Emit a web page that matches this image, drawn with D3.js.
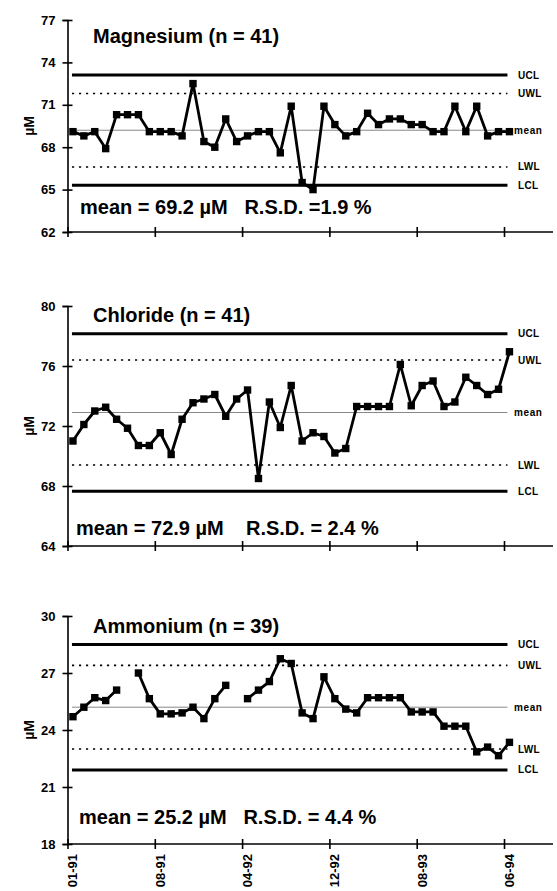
<!DOCTYPE html>
<html>
<head>
<meta charset="utf-8">
<script src="https://cdn.jsdelivr.net/npm/d3@7"></script>
<style>
  body { margin: 0; background: #fff; }
  svg { display: block; font-family: "Liberation Sans", Arial, sans-serif; font-weight: bold; }
  .pre { white-space: pre; }
</style>
</head>
<body>
<svg width="557" height="891"></svg>
<script>
// sampling dates shown on the x axis (every 8th sample)
var months = ["01-91", "08-91", "04-92", "12-92", "08-93", "06-94"];
var monthIndex = [0, 8, 16, 24, 32, 40];

var limitNames = ["UCL", "UWL", "mean", "LWL", "LCL"];

// Magnesium, uM
var magnesium = [69.1, 68.8, 69.1, 67.9, 70.3, 70.3, 70.3, 69.1, 69.1, 69.1,
    68.8, 72.5, 68.4, 68.0, 70.0, 68.4, 68.8, 69.1, 69.1, 67.6,
    70.9, 65.5, 65.0, 70.9, 69.6, 68.8, 69.1, 70.4, 69.6, 70.0,
    70.0, 69.6, 69.6, 69.1, 69.1, 70.9, 69.1, 70.9, 68.8, 69.1, 69.1];
var magLimits = [73.1, 71.8, 69.2, 66.6, 65.3];
var magTicks = [62, 65, 68, 71, 74, 77];

// Chloride, uM
var chloride = [71.0, 72.1, 73.0, 73.25, 72.45, 71.85, 70.7, 70.7, 71.55, 70.1,
    72.45, 73.55, 73.8, 74.1, 72.65, 73.8, 74.4, 68.5, 73.6, 71.9,
    74.7, 71.0, 71.55, 71.3, 70.2, 70.5, 73.3, 73.3, 73.3, 73.3,
    76.1, 73.35, 74.7, 75.0, 73.3, 73.6, 75.25, 74.7, 74.1, 74.45, 76.95];
var clLimits = [78.15, 76.4, 72.9, 69.4, 67.65];
var clTicks = [64, 68, 72, 76, 80];

// Ammonium, uM (two samples missing)
var ammonium = [24.7, 25.2, 25.7, 25.55, 26.1, null, 27.0, 25.65, 24.85, 24.85,
    24.9, 25.2, 24.6, 25.65, 26.35, null, 25.65, 26.1, 26.55, 27.75,
    27.5, 24.9, 24.6, 26.8, 25.65, 25.1, 24.9, 25.7, 25.7, 25.7,
    25.7, 24.95, 24.95, 24.95, 24.2, 24.2, 24.2, 22.85, 23.1, 22.65, 23.35];
var nhLimits = [28.5, 27.4, 25.2, 23.0, 21.9];
var nhTicks = [18, 21, 24, 27, 30];

var titles = ["Magnesium (n = 41)", "Chloride (n = 41)", "Ammonium (n = 39)"];
var stats = ["mean = 69.2 \u00b5M   R.S.D. =1.9 %",
    "mean = 72.9 \u00b5M    R.S.D. = 2.4 %",
    "mean = 25.2 \u00b5M   R.S.D. = 4.4 %"];

var svg = d3.select("svg");

// one shared category axis, ticks sit between samples
var x = d3.scaleLinear()
    .domain([0, 40])
    .range([67.5, 504]);

var panels = [
    {values: magnesium, limits: magLimits, ticks: magTicks, top: 20, bottom: 232, titleY: 43, statY: 214, statX: 80},
    {values: chloride, limits: clLimits, ticks: clTicks, top: 306, bottom: 546, titleY: 322, statY: 535, statX: 76},
    {values: ammonium, limits: nhLimits, ticks: nhTicks, top: 616, bottom: 844, titleY: 633, statY: 824, statX: 79}
];

panels.forEach(function (p, k) {
    var y = d3.scaleLinear()
        .domain(d3.extent(p.ticks))
        .range([p.bottom, p.top]);

    var g = svg.append("g");

    // control / warning / mean lines
    p.limits.forEach(function (v, j) {
        var line = g.append("line")
            .attr("x1", x(0.5) - 1)
            .attr("x2", x(40.5) - 2)
            .attr("y1", y(v))
            .attr("y2", y(v))
            .attr("stroke", "#000");
        if (j == 0 || j == 4) {
            line.attr("stroke-width", 3);
        } else if (j == 2) {
            line.attr("stroke", "#888").attr("stroke-width", 1);
        } else {
            line.attr("stroke-width", 1.6).attr("stroke-dasharray", "2.2,4.8");
        }
        g.append("text")
            .attr("x", j == 2 ? 514 : 518)
            .attr("y", y(v))
            .attr("dy", "0.35em")
            .attr("font-size", 10)
            .attr("letter-spacing", j == 2 ? 0.6 : 0.3)
            .text(limitNames[j]);
    });

    // y axis with crossing ticks
    var yAxis = g.append("g")
        .attr("transform", "translate(" + x(0) + ",0)")
        .call(d3.axisLeft(y).tickValues(p.ticks).tickSizeOuter(0).tickSize(5).tickPadding(7));
    yAxis.select(".domain").attr("stroke-width", 1.6);
    yAxis.selectAll(".tick line").attr("x1", 5).attr("stroke-width", 1.6);
    yAxis.selectAll(".tick text")
        .attr("font-size", 13)
        .attr("font-weight", "bold")
        .attr("font-family", "Liberation Sans, Arial, sans-serif");

    // x axis
    g.append("line")
        .attr("x1", x(0))
        .attr("x2", 553)
        .attr("y1", p.bottom)
        .attr("y2", p.bottom)
        .attr("stroke", "#000")
        .attr("stroke-width", 1.6);
    var xAxis = g.append("g")
        .attr("transform", "translate(0," + p.bottom + ")")
        .call(d3.axisBottom(x).tickValues(monthIndex).tickSize(5)
            .tickFormat(function (d, i) { return k == 2 ? months[i] : ""; }));
    xAxis.select(".domain").remove();
    xAxis.selectAll(".tick line").attr("y1", -5).attr("stroke-width", 1.6);
    xAxis.selectAll(".tick text")
        .attr("font-size", 13)
        .attr("font-weight", "bold")
        .attr("font-family", "Liberation Sans, Arial, sans-serif")
        .attr("text-anchor", "end")
        .attr("dy", null)
        .attr("y", null)
        .attr("transform", "translate(" + (x(0.5) - x(0) + 4) + ",10) rotate(-90)");

    // y title
    g.append("text")
        .attr("transform", "translate(34," + (p.top + p.bottom) / 2 + ") rotate(-90)")
        .attr("text-anchor", "middle")
        .attr("font-size", 14)
        .text("\u00b5M");

    // series
    var line = d3.line()
        .defined(function (d) { return d != null; })
        .x(function (d, i) { return x(i + 0.5); })
        .y(function (d) { return y(d); });

    g.append("path")
        .datum(p.values)
        .attr("fill", "none")
        .attr("stroke", "#000")
        .attr("stroke-width", 2.8)
        .attr("stroke-linejoin", "round")
        .attr("d", line);

    g.selectAll("rect.pt")
        .data(p.values.map(function (d, i) { return {v: d, i: i}; })
            .filter(function (d) { return d.v != null; }))
        .enter().append("rect")
        .attr("class", "pt")
        .attr("x", function (d) { return x(d.i + 0.5) - 3.7; })
        .attr("y", function (d) { return y(d.v) - 3.7; })
        .attr("width", 7.4)
        .attr("height", 7.4)
        .attr("fill", "#000");

    // labels
    g.append("text")
        .attr("x", 93)
        .attr("y", p.titleY)
        .attr("font-size", 20)
        .text(titles[k]);

    g.append("text")
        .attr("class", "pre")
        .attr("x", p.statX)
        .attr("y", p.statY)
        .attr("font-size", 20)
        .text(stats[k]);
});
</script>
</body>
</html>
